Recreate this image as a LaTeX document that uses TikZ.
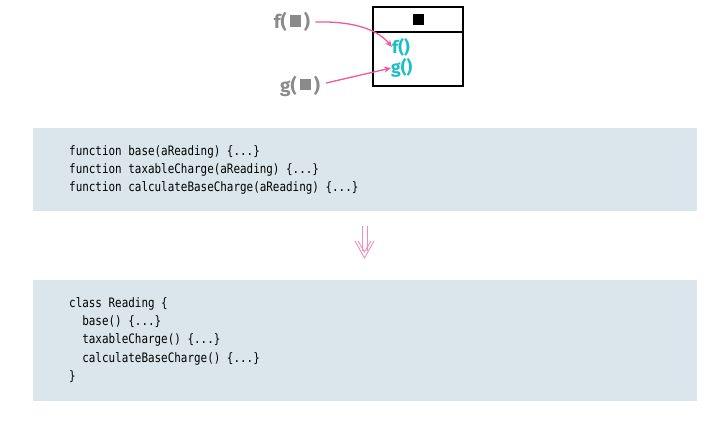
\documentclass[tikz,border=0pt]{standalone}
\usepackage{fontspec}
\usetikzlibrary{arrows.meta}
\newfontfamily\codefont[FakeStretch=0.84]{DejaVu Sans Mono}
\newfontfamily\labfont{Fira Sans}
\definecolor{boxbg}{HTML}{DAE6EB}
\definecolor{pinkc}{HTML}{F0579C}
\definecolor{pinklt}{HTML}{F28CB9}
\definecolor{cyanc}{HTML}{14C0C8}
\definecolor{grayc}{HTML}{8A8A8A}
\newcommand{\sq}{\hspace{0.15em}\rule[0.1em]{0.6em}{0.6em}\hspace{0.15em}}
\tikzset{
  codebg/.style={fill=boxbg, draw=none},
  codetxt/.style={font=\codefont\fontsize{13}{18.3}\selectfont, anchor=north west, align=left, inner sep=0pt, text=black},
  meth/.style={font=\labfont\bfseries\fontsize{17.5}{20}\selectfont, text=cyanc, inner sep=0pt, anchor=west},
  call/.style={font=\labfont\bfseries\fontsize{19}{22}\selectfont, text=grayc, inner sep=0pt},
  parrow/.style={draw=pinkc, line width=1.3pt, -{Stealth[length=7pt,width=6pt]}},
  dblline/.style={draw=pinklt, line width=0.9pt}
}
\begin{document}
\begin{tikzpicture}[x=1pt,y=-1pt]
\useasboundingbox (0,0) rectangle (719,421);
% class box
\draw[line width=1.1pt] (373,7) rectangle (463,86);
\draw[line width=1.1pt] (373,32) -- (463,32);
\node[fill=black, minimum size=11pt, inner sep=0pt] (sqr) at (418,19) {};
\node[meth] (f) at (392,47) {f()};
\node[meth] (g) at (391,68) {g()};
\node[call] (fc) at (292,22) {f(\sq)};
\node[call] (gc) at (300,86) {g(\sq)};
\draw[parrow] (fc.east) ++(5,0) coordinate (fs) .. controls (355,21) and (378,30) .. (f.west);
\draw[parrow] (gc.east) ++(6,-3) coordinate (gs) -- (g.west);
% boxes
\fill[codebg] (33,128) rectangle (697,211);
\node[codetxt] (c1) at (69,145) {function base(aReading) \{...\}\\function taxableCharge(aReading) \{...\}\\function calculateBaseCharge(aReading) \{...\}};
\fill[codebg] (33,280) rectangle (697,401);
\node[codetxt] (c2) at (69,297) {class Reading \{\\\ \ base() \{...\}\\\ \ taxableCharge() \{...\}\\\ \ calculateBaseCharge() \{...\}\\\}};
% double arrow
\coordinate (a1) at (364.5,226);
\coordinate (tip) at (364.5,258);
\draw[dblline] (362,226) -- (362,251);
\draw[dblline] (367,226) -- (367,251);
\draw[dblline, line join=miter] (355,241) -- (tip) -- (374,241);
\draw[dblline, line join=miter] (358,241) -- (364.5,252) -- (371,241);
\end{tikzpicture}
\end{document}
